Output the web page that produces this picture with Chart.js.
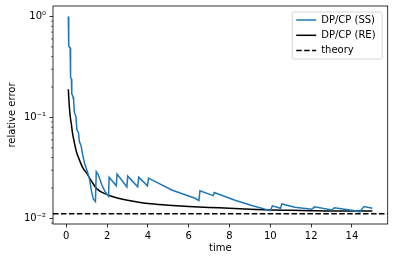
<!DOCTYPE html>
<html>
<head>
<meta charset="utf-8">
<script src="https://cdn.jsdelivr.net/npm/chart.js@4.4.0/dist/chart.umd.min.js"></script>
<style>
  html, body { margin: 0; padding: 0; background: #fff; }
  canvas { display: block; }
</style>
</head>
<body>
<canvas id="errChart" width="394" height="262"></canvas>
<script>
// values (time, relative error)
const ssTime = [0.10, 0.12, 0.19, 0.21, 0.25, 0.27, 0.33, 0.36, 0.40, 0.47, 0.52, 0.60, 0.64, 0.73, 0.80,
    0.90, 1.01, 1.13, 1.25, 1.33, 1.43, 1.47, 1.57, 1.74, 1.90, 2.07, 2.10, 2.45, 2.49, 2.97, 3.01,
    3.50, 3.55, 3.98, 4.03, 4.51, 5.17, 5.82, 6.31, 6.50, 6.55, 7.20, 7.25, 8.27, 9.09, 10.0, 10.1,
    10.5, 10.56, 11.2, 12.03, 12.16, 13.01, 13.14, 14.15, 14.38, 14.45, 14.6, 15.0];
const ssError = [1.00, 0.51, 0.49, 0.25, 0.24, 0.172, 0.160, 0.148, 0.112, 0.103, 0.076, 0.070, 0.058, 0.052, 0.043,
    0.035, 0.030, 0.025, 0.018, 0.0155, 0.0147, 0.0290, 0.0270, 0.0215, 0.0184, 0.0165, 0.0255, 0.0210, 0.0275, 0.0205, 0.0262,
    0.0205, 0.0256, 0.0210, 0.0250, 0.0223, 0.0191, 0.0171, 0.0158, 0.0150, 0.0188, 0.0168, 0.0180, 0.0151, 0.0134, 0.0119, 0.0133,
    0.0126, 0.0139, 0.0129, 0.0123, 0.0130, 0.0121, 0.0127, 0.0119, 0.0116, 0.0122, 0.0131, 0.0126];

const reTime = [0.10, 0.15, 0.20, 0.25, 0.30, 0.40, 0.50, 0.60, 0.80, 1.0, 1.2, 1.5, 2.0, 2.5, 3.0,
    4.0, 5.0, 6.0, 7.0, 8.0, 9.0, 10, 11, 12, 13, 14, 15];
const reError = [0.19, 0.128, 0.100, 0.086, 0.071, 0.056, 0.0455, 0.040, 0.032, 0.028, 0.024, 0.0196, 0.0172, 0.0159, 0.0151,
    0.0140, 0.0135, 0.0131, 0.0128, 0.0126, 0.0123, 0.0121, 0.0120, 0.0119, 0.0118, 0.0118, 0.0118];

const theoryError = 0.0111;

const xTicks = [0, 2, 4, 6, 8, 10, 12, 14];
const yTicks = [0.01, 0.1, 1];
const yTickLabels = ['10⁻²', '10⁻¹', '10⁰'];
const xRange = [-0.65, 15.75];
const yRange = [0.00879, 1.27];

Chart.defaults.font.family = 'DejaVu Sans';
Chart.defaults.font.size = 10;
Chart.defaults.color = '#000';

// box around the axes + minor log ticks
const axesFrame = {
    id: 'axesFrame',
    afterDatasetsDraw(chart) {
        const ctx = chart.ctx;
        const a = chart.chartArea;
        const y = chart.scales.y;
        ctx.save();
        ctx.strokeStyle = '#000';
        ctx.lineWidth = 0.6;
        for (let n = -3; n <= 0; n++) {
            for (let k = 2; k <= 9; k++) {
                const v = k * Math.pow(10, n);
                if (v < yRange[0] || v > yRange[1]) continue;
                const py = y.getPixelForValue(v);
                ctx.beginPath();
                ctx.moveTo(a.left - 2, py);
                ctx.lineTo(a.left, py);
                ctx.stroke();
            }
        }
        ctx.lineWidth = 0.8;
        ctx.strokeRect(a.left, a.top, a.right - a.left, a.bottom - a.top);
        ctx.restore();
    }
};

// matplotlib style legend inside the upper right corner
const innerLegend = {
    id: 'innerLegend',
    afterDraw(chart) {
        const ctx = chart.ctx;
        const a = chart.chartArea;
        const sets = chart.data.datasets;
        const w = 90, h = 47;
        const x0 = a.right - 5.5 - w;
        const y0 = a.top + 6;
        ctx.save();
        ctx.fillStyle = 'rgba(255,255,255,0.8)';
        ctx.strokeStyle = '#cccccc';
        ctx.lineWidth = 0.8;
        ctx.beginPath();
        ctx.roundRect(x0, y0, w, h, 2);
        ctx.fill();
        ctx.stroke();
        ctx.font = '10px "DejaVu Sans"';
        ctx.textBaseline = 'middle';
        sets.forEach((ds, i) => {
            const cy = y0 + 8 + i * 15.3;
            ctx.strokeStyle = ds.borderColor;
            ctx.lineWidth = ds.borderWidth;
            ctx.setLineDash(ds.borderDash || []);
            ctx.beginPath();
            ctx.moveTo(x0 + 4, cy);
            ctx.lineTo(x0 + 24, cy);
            ctx.stroke();
            ctx.setLineDash([]);
            ctx.fillStyle = '#000';
            ctx.fillText(ds.label, x0 + 29, cy);
        });
        ctx.restore();
    }
};

const ssData = ssTime.map((t, i) => ({ x: t, y: ssError[i] }));
const reData = reTime.map((t, i) => ({ x: t, y: reError[i] }));
const theoryData = [{ x: xRange[0], y: theoryError }, { x: xRange[1], y: theoryError }];

new Chart(document.getElementById('errChart'), {
    type: 'line',
    data: {
        datasets: [
            {
                label: 'DP/CP (SS)',
                data: ssData,
                borderColor: '#1f77b4',
                borderWidth: 1.5,
                pointRadius: 0,
                tension: 0
            },
            {
                label: 'DP/CP (RE)',
                data: reData,
                borderColor: '#000000',
                borderWidth: 1.5,
                pointRadius: 0,
                cubicInterpolationMode: 'monotone'
            },
            {
                label: 'theory',
                data: theoryData,
                borderColor: '#000000',
                borderWidth: 1.5,
                borderDash: [5.55, 2.4],
                pointRadius: 0
            }
        ]
    },
    options: {
        responsive: false,
        animation: false,
        devicePixelRatio: 1,
        layout: { padding: { top: 6, right: 6.3, left: 0, bottom: 0 } },
        plugins: {
            legend: { display: false },
            tooltip: { enabled: false }
        },
        scales: {
            x: {
                type: 'linear',
                min: xRange[0],
                max: xRange[1],
                afterBuildTicks: (s) => { s.ticks = xTicks.map(v => ({ value: v })); },
                afterFit: (s) => { s.height = 38; s.paddingLeft = 0; s.paddingRight = 0; },
                ticks: { padding: 3, maxRotation: 0, callback: (v) => String(v) },
                grid: { drawOnChartArea: false, drawTicks: true, tickLength: 3.5, color: '#000', lineWidth: 0.8 },
                border: { display: false },
                title: { display: true, text: 'time', padding: { top: 0, bottom: 8 } }
            },
            y: {
                type: 'logarithmic',
                min: yRange[0],
                max: yRange[1],
                afterBuildTicks: (s) => { s.ticks = yTicks.map(v => ({ value: v })); },
                afterFit: (s) => { s.width = 53; s.paddingTop = 0; s.paddingBottom = 0; },
                ticks: {
                    padding: 3.5,
                    callback: (v) => {
                        const i = yTicks.indexOf(v);
                        return i >= 0 ? yTickLabels[i] : '';
                    }
                },
                grid: { drawOnChartArea: false, drawTicks: true, tickLength: 3.5, color: '#000', lineWidth: 0.8 },
                border: { display: false },
                title: { display: true, text: 'relative error', padding: { top: 6, bottom: 0 } }
            }
        }
    },
    plugins: [axesFrame, innerLegend]
});
</script>
</body>
</html>
